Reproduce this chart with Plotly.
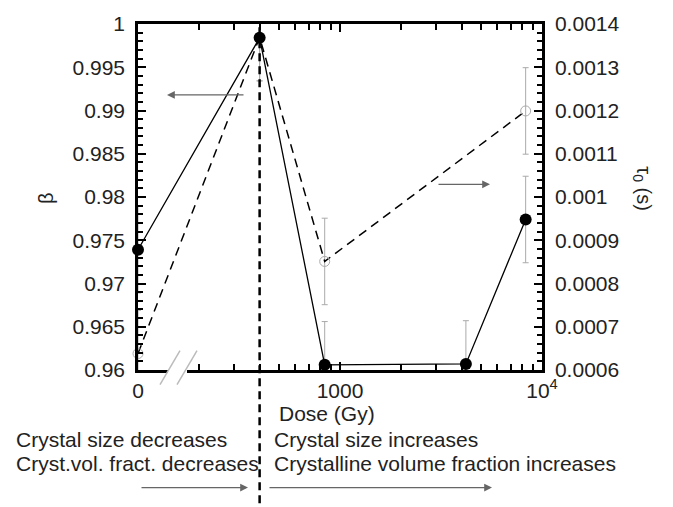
import plotly.graph_objects as go

# ---- data ----
dose_beta = [0, 400, 840, 4200, 8300]          # Gy (0 drawn at axis break)
beta = [0.9739, 0.9984, 0.9606, 0.9607, 0.9774]
beta_err = [0.005, 0.005, 0.005, 0.005, 0.005]

dose_tau = [0, 400, 840, 8300]
tau0 = [0.000638, 0.001369, 0.000851, 0.001199]
tau0_err = [0.0001, 0.0001, 0.0001, 0.0001]

x_ticks = [100, 1000, 10000]
x_ticktext = ["0", "1000", "10<sup>4</sup>"]
y_ticks = [0.96, 0.965, 0.97, 0.975, 0.98, 0.985, 0.99, 0.995, 1.0]
y_ticktext = ["0.96", "0.965", "0.97", "0.975", "0.98", "0.985", "0.99", "0.995", "1"]
y2_ticks = [0.0006, 0.0007, 0.0008, 0.0009, 0.001, 0.0011, 0.0012, 0.0013, 0.0014]
y2_ticktext = ["0.0006", "0.0007", "0.0008", "0.0009", "0.001", "0.0011", "0.0012", "0.0013", "0.0014"]
x_minor = [200, 300, 400, 500, 600, 700, 800, 900, 2000, 3000, 4000, 5000, 6000, 7000, 8000, 9000]

X_ZERO = 100  # position where dose 0 is drawn (left end of broken log axis)
xb = [d if d > 0 else X_ZERO for d in dose_beta]
xt = [d if d > 0 else X_ZERO for d in dose_tau]

FONT = "Liberation Sans, Arial, sans-serif"
GRAY = "#aaaaaa"
FS = 21

fig = go.Figure()

# tau0 (right axis = layout.yaxis, drawn underneath): dashed line + error bars
fig.add_trace(go.Scatter(
    x=xt, y=tau0, yaxis="y", mode="lines",
    line=dict(color="black", width=1.5, dash="9px,6px"),
    error_y=dict(type="data", array=tau0_err, color=GRAY, thickness=1, width=3),
    hoverinfo="skip"))
fig.add_trace(go.Scatter(
    x=xt, y=tau0, yaxis="y", mode="markers", cliponaxis=False,
    marker=dict(symbol="circle-open", size=10, color=GRAY, line=dict(width=1, color=GRAY))))

# beta (left axis = layout.yaxis2, overlaying, drawn on top)
fig.add_trace(go.Scatter(
    x=xb, y=beta, yaxis="y2", mode="lines",
    line=dict(color="black", width=1.3),
    error_y=dict(type="data", array=beta_err, color=GRAY, thickness=1, width=3),
    hoverinfo="skip"))
fig.add_trace(go.Scatter(
    x=xb, y=beta, yaxis="y2", mode="markers", cliponaxis=False,
    marker=dict(symbol="circle", size=12, color="black")))

L, R, T, B = 138, 131, 14, 137
W, H = 673, 507
pw, ph = W - L - R, H - T - B

def px(x):
    return (x - L) / pw

def py(y):
    return (H - B - y) / ph

axis_common = dict(showline=True, linecolor="black", linewidth=2.5, showgrid=False,
                   zeroline=False, ticks="inside", tickcolor="black", tickwidth=2,
                   tickfont=dict(family=FONT, size=FS, color="#222"))

fig.update_layout(
    width=W, height=H, margin=dict(l=L, r=R, t=T, b=B),
    paper_bgcolor="white", plot_bgcolor="white", showlegend=False,
    font=dict(family=FONT, size=FS, color="#222"),
    xaxis=dict(type="log", range=[2, 4], tickvals=x_ticks, ticktext=x_ticktext,
               ticklen=8, mirror="ticks",
               minor=dict(tickvals=x_minor, ticks="inside", ticklen=6, tickwidth=2, tickcolor="black"),
               ticklabelstandoff=0, **axis_common),
    yaxis2=dict(range=[0.96, 1.0], overlaying="y", side="left",
                tickvals=y_ticks, ticktext=y_ticktext, ticklen=8,
                minor=dict(dtick=0.001, ticks="inside", ticklen=5, tickwidth=2, tickcolor="black"),
                ticklabelstandoff=6, **axis_common),
    yaxis=dict(range=[0.0006, 0.0014], side="right",
               tickvals=y2_ticks, ticktext=y2_ticktext, ticklen=8,
               minor=dict(dtick=0.00002, ticks="inside", ticklen=5, tickwidth=2, tickcolor="black"),
               ticklabelstandoff=6, **axis_common),
)

shapes = [
    # vertical dashed line at the transition dose
    dict(type="line", xref="x", yref="paper", x0=400, x1=400, y0=py(507), y1=1,
         line=dict(color="black", width=2.5, dash="8px,5px"), layer="above"),
    # axis break: white gap then two slashes
    dict(type="rect", xref="paper", yref="paper", x0=px(168), x1=px(187), y0=py(374), y1=py(366),
         fillcolor="white", line=dict(width=0), layer="above"),
    dict(type="line", xref="paper", yref="paper", x0=px(160), y0=py(385), x1=px(180), y1=py(350),
         line=dict(color="#bbbbbb", width=1.5), layer="above"),
    dict(type="line", xref="paper", yref="paper", x0=px(177), y0=py(385), x1=px(197), y1=py(350),
         line=dict(color="#bbbbbb", width=1.5), layer="above"),
]
fig.update_layout(shapes=shapes)

ann = []
def text(s, x, y, xanchor="left", angle=0, size=FS):
    ann.append(dict(text=s, xref="paper", yref="paper", x=px(x), y=py(y), xanchor=xanchor,
                    yanchor="middle", showarrow=False, textangle=angle,
                    font=dict(family=FONT, size=size, color="#222")))

def arrow(tipx, tipy, tailx, taily):
    ann.append(dict(text="", xref="paper", yref="paper", x=px(tipx), y=py(tipy),
                    ax=tailx - tipx, ay=taily - tipy, axref="pixel", ayref="pixel",
                    showarrow=True, arrowhead=2, arrowsize=1.3, arrowwidth=1.2,
                    arrowcolor="#666666"))

text("Dose (Gy)", 327, 415, xanchor="center")
text("Crystal size decreases", 14, 441)
text("Cryst.vol. fract. decreases", 14, 466)
text("Crystal size increases", 272, 441)
text("Crystalline volume fraction increases", 272, 466)
text("β", 46, 193, xanchor="center", angle=-90, size=20)
text("τ<sub>0</sub> (s)", 643, 183, xanchor="center", angle=90, size=20)

arrow(167, 87, 245, 87)
arrow(490, 179, 437, 179)
arrow(248, 491, 140, 491)
arrow(492, 491, 268, 491)

fig.update_layout(annotations=ann)

fig.write_html("out.html")
